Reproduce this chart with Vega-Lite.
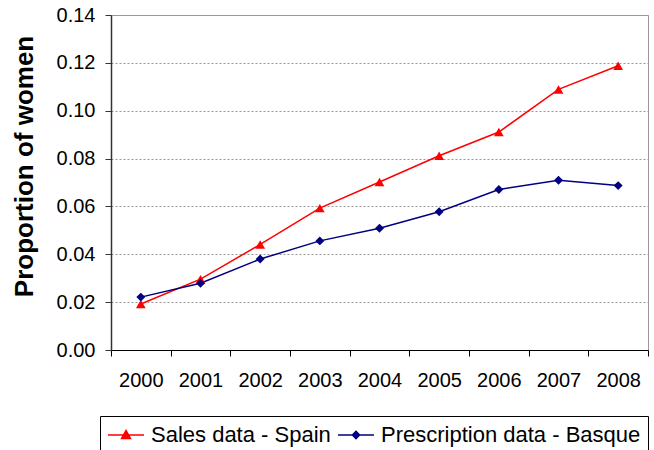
{
  "$schema": "https://vega.github.io/schema/vega-lite/v6.json",
  "width": 537,
  "height": 335,
  "autosize": {"type": "none"},
  "padding": {"left": 111, "top": 15, "right": 6, "bottom": 100},
  "background": "white",
  "config": {
    "font": "Liberation Sans",
    "view": {"stroke": "#999999", "strokeWidth": 1}
  },
  "data": {
    "values": [
      {"year": "2000", "series": "Sales data - Spain", "value": 0.0192},
      {"year": "2001", "series": "Sales data - Spain", "value": 0.0296},
      {"year": "2002", "series": "Sales data - Spain", "value": 0.0441},
      {"year": "2003", "series": "Sales data - Spain", "value": 0.0593},
      {"year": "2004", "series": "Sales data - Spain", "value": 0.0702},
      {"year": "2005", "series": "Sales data - Spain", "value": 0.0812},
      {"year": "2006", "series": "Sales data - Spain", "value": 0.0911},
      {"year": "2007", "series": "Sales data - Spain", "value": 0.1089},
      {"year": "2008", "series": "Sales data - Spain", "value": 0.1188},
      {"year": "2000", "series": "Prescription data - Basque", "value": 0.0221},
      {"year": "2001", "series": "Prescription data - Basque", "value": 0.0279},
      {"year": "2002", "series": "Prescription data - Basque", "value": 0.0380},
      {"year": "2003", "series": "Prescription data - Basque", "value": 0.0456},
      {"year": "2004", "series": "Prescription data - Basque", "value": 0.0509},
      {"year": "2005", "series": "Prescription data - Basque", "value": 0.0578},
      {"year": "2006", "series": "Prescription data - Basque", "value": 0.0671},
      {"year": "2007", "series": "Prescription data - Basque", "value": 0.0709},
      {"year": "2008", "series": "Prescription data - Basque", "value": 0.0687}
    ]
  },
  "encoding": {
    "x": {
      "field": "year",
      "type": "ordinal",
      "scale": {"type": "band", "paddingInner": 0, "paddingOuter": 0},
      "axis": {
        "title": null,
        "labelAngle": 0,
        "labelFontSize": 20,
        "labelColor": "black",
        "labelPadding": 14,
        "tickBand": "extent",
        "tickSize": 6,
        "tickColor": "black",
        "domainColor": "black",
        "grid": false
      }
    },
    "y": {
      "field": "value",
      "type": "quantitative",
      "scale": {"domain": [0, 0.14], "nice": false},
      "axis": {
        "title": "Proportion of women",
        "titleFontSize": 26,
        "titleFontWeight": "bold",
        "titleColor": "black",
        "titleX": -74,
        "titleY": 151,
        "titleBaseline": "bottom",
        "values": [0, 0.02, 0.04, 0.06, 0.08, 0.1, 0.12, 0.14],
        "format": ".2f",
        "labelFontSize": 20,
        "labelColor": "black",
        "labelPadding": 10,
        "tickSize": 6,
        "tickColor": "#333333",
        "domainColor": "#333333",
        "domainWidth": 1.5,
        "grid": true,
        "gridColor": "#999999",
        "gridDash": [2, 2],
        "gridWidth": 1
      }
    },
    "color": {
      "field": "series",
      "type": "nominal",
      "scale": {
        "domain": ["Sales data - Spain", "Prescription data - Basque"],
        "range": ["#ff0000", "#000080"]
      },
      "legend": {
        "title": null,
        "orient": "none",
        "legendX": -11,
        "legendY": 401,
        "direction": "horizontal",
        "strokeColor": "black",
        "fillColor": "white",
        "padding": 7,
        "labelFontSize": 22,
        "labelColor": "black",
        "labelLimit": 0,
        "labelOffset": 6,
        "columnPadding": 4,
        "symbolSize": 1296,
        "symbolStrokeWidth": 1.5,
        "encode": {
          "symbols": {
            "update": {
              "shape": {"signal": "datum.value === 'Sales data - Spain' ? 'M-1,-0.39H1M0,-0.64L0.25,-0.19L-0.25,-0.19Z' : 'M-1,-0.39H1M0,-0.59L0.2,-0.39L0,-0.19L-0.2,-0.39Z'"},
              "fill": {"signal": "datum.value === 'Sales data - Spain' ? '#ff0000' : '#000080'"},
              "stroke": {"signal": "datum.value === 'Sales data - Spain' ? '#ff0000' : '#000080'"},
              "strokeWidth": {"value": 1.5},
              "opacity": {"value": 1}
            }
          },
          "labels": {
            "update": {
              "dy": {"value": -7}
            }
          }
        }
      }
    }
  },
  "layer": [
    {
      "mark": {"type": "line", "strokeWidth": 1.5}
    },
    {
      "transform": [{"filter": "datum.series === 'Sales data - Spain'"}],
      "mark": {"type": "point", "filled": true, "size": 95, "opacity": 1, "shape": "triangle-up"}
    },
    {
      "transform": [{"filter": "datum.series === 'Prescription data - Basque'"}],
      "mark": {"type": "point", "filled": true, "size": 80, "opacity": 1, "shape": "diamond"}
    }
  ]
}
